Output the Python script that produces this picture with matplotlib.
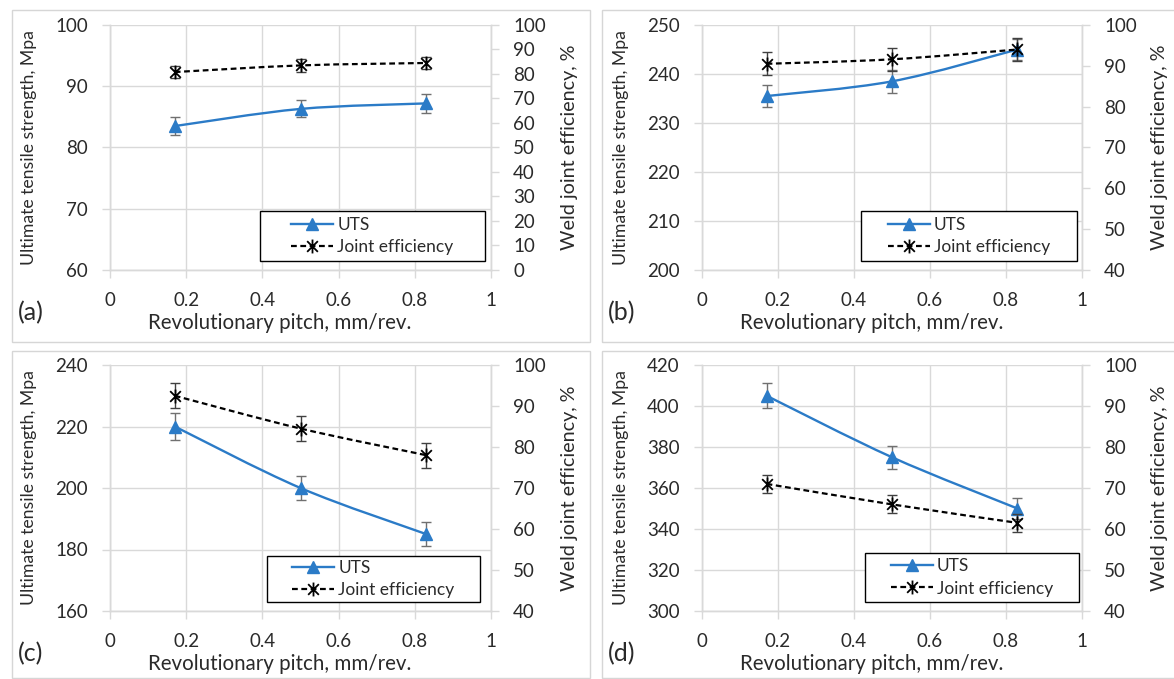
import matplotlib
matplotlib.use("Agg")
import matplotlib.pyplot as plt
from matplotlib.path import Path
from matplotlib.patches import Rectangle, PathPatch
from matplotlib.lines import Line2D
import numpy as np

plt.rcParams['font.family'] = ['Lato', 'DejaVu Sans']

# ---- data ----
pitch = [0.17, 0.5, 0.83]

uts_a = [83.5, 86.3, 87.2]
uts_a_err = [1.4, 1.4, 1.5]
je_a = [80.8, 83.5, 84.5]
je_a_err = [2.5, 2.5, 2.5]

uts_b = [235.5, 238.5, 245.0]
uts_b_err = [2.2, 2.3, 2.2]
je_b = [90.5, 91.6, 94.0]
je_b_err = [2.8, 2.8, 2.8]

uts_c = [220.0, 200.0, 185.0]
uts_c_err = [4.3, 4.0, 3.8]
je_c = [92.5, 84.5, 78.0]
je_c_err = [3.0, 3.0, 3.0]

uts_d = [405.0, 375.0, 350.0]
uts_d_err = [6.0, 5.5, 5.0]
je_d = [71.0, 66.0, 61.5]
je_d_err = [2.2, 2.2, 2.2]

left_lims = [(60, 100), (200, 250), (160, 240), (300, 420)]
left_steps = [10, 10, 20, 20]
right_lims = [(0, 100), (40, 100), (40, 100), (40, 100)]
right_steps = [10, 10, 10, 10]
panel_tags = ["(a)", "(b)", "(c)", "(d)"]
x_ticks = [0, 0.2, 0.4, 0.6, 0.8, 1]
x_ticklabels = ["0", "0.2", "0.4", "0.6", "0.8", "1"]
x_title = "Revolutionary pitch, mm/rev."
y_title_left = "Ultimate tensile strength, Mpa"
y_title_right = "Weld joint efficiency, %"

uts_sets = [(uts_a, uts_a_err), (uts_b, uts_b_err), (uts_c, uts_c_err), (uts_d, uts_d_err)]
je_sets = [(je_a, je_a_err), (je_b, je_b_err), (je_c, je_c_err), (je_d, je_d_err)]

# ---- style ----
W, H = 1174, 679
fig = plt.figure(figsize=(W / 100, H / 100), dpi=100)

BLUE = "#2b7bc7"
GRID = "#d9d9d9"
TXT = "#2a2a2a"

star = Path([(-1, -1), (1, 1), (-1, 1), (1, -1), (0, -1.3), (0, 1.3)],
            [Path.MOVETO, Path.LINETO, Path.MOVETO, Path.LINETO, Path.MOVETO, Path.LINETO])


def smooth_path(xs, ys, t=1.0 / 6.0):
    """Excel-like smoothed line through the data points (cubic Bezier)."""
    pts = np.column_stack([xs, ys]).astype(float)
    n = len(pts)
    verts = [pts[0]]
    codes = [Path.MOVETO]
    for k in range(n - 1):
        p0 = pts[k - 1] if k > 0 else pts[k]
        p1 = pts[k]
        p2 = pts[k + 1]
        p3 = pts[k + 2] if k + 2 < n else pts[k + 1]
        c1 = p1 + (p2 - p0) * t
        c2 = p2 - (p3 - p1) * t
        verts += [c1, c2, p2]
        codes += [Path.CURVE4] * 3
    return Path(verts, codes)


# axes rectangles in pixels: (left, right, top, bottom)
ax_px = [(110, 491, 25, 270), (702, 1082, 25, 270),
         (110, 491, 365, 611), (702, 1082, 365, 611)]
frame_px = [(12, 590, 10, 342), (602, 1190, 10, 342),
            (12, 590, 351, 678), (602, 1190, 351, 678)]
# legend boxes in pixels: (left, right, top, bottom)
legend_px = [(260, 485, 211, 261), (861, 1077, 211, 261),
             (267, 480, 556, 602), (865, 1079, 553, 602)]
xtitle_cx = [280, 872, 280, 872]

for (fl, fr, ft, fb) in frame_px:
    fig.patches.append(Rectangle((fl / W, 1 - fb / H), (fr - fl) / W, (fb - ft) / H,
                                 transform=fig.transFigure, fill=False,
                                 edgecolor="#d6d6d6", linewidth=1.0))

for i in range(4):
    l, r, t, b = ax_px[i]
    axw, axh = r - l, b - t
    ax = fig.add_axes([l / W, 1 - b / H, axw / W, axh / H])
    ax2 = ax.twinx()

    uts, uts_err = uts_sets[i]
    je, je_err = je_sets[i]

    # UTS on left axis
    ax.errorbar(pitch, uts, yerr=uts_err, fmt='none', ecolor="#707070",
                elinewidth=1.0, capsize=3.5, capthick=1.0, zorder=3)
    ax.add_patch(PathPatch(smooth_path(pitch, uts), fill=False, edgecolor=BLUE,
                           linewidth=1.7, zorder=4))
    ax.plot(pitch, uts, linestyle='none', marker='^', markersize=9,
            markerfacecolor=BLUE, markeredgecolor=BLUE, zorder=5)

    # Joint efficiency on right axis
    ax2.errorbar(pitch, je, yerr=je_err, fmt='none', ecolor="#404040",
                 elinewidth=1.0, capsize=3.5, capthick=1.0, zorder=3)
    ax2.add_patch(PathPatch(smooth_path(pitch, je), fill=False, edgecolor="black",
                            linewidth=1.6, linestyle=(0, (2.6, 1.6)), zorder=4))
    ax2.plot(pitch, je, linestyle='none', marker=star, markersize=10,
             markeredgewidth=1.3, markeredgecolor="black", zorder=5)

    ax.set_xlim(0, 1)
    ax.set_ylim(*left_lims[i])
    ax2.set_ylim(*right_lims[i])
    ax.set_xticks(x_ticks)
    ax.set_xticklabels(x_ticklabels)
    ax.set_yticks(np.arange(left_lims[i][0], left_lims[i][1] + 1, left_steps[i]))
    ax2.set_yticks(np.arange(right_lims[i][0], right_lims[i][1] + 1, right_steps[i]))

    ax.grid(True, color=GRID, linewidth=1.0, zorder=0)
    ax.set_axisbelow(True)
    for a in (ax, ax2):
        for s in a.spines.values():
            s.set_color(GRID)
            s.set_linewidth(1.0)
        a.spines['top'].set_visible(False)
        a.tick_params(colors=GRID, labelcolor=TXT, labelsize=13.5, length=6,
                      width=1.0, pad=10)

    # axis titles
    ax.text((xtitle_cx[i] - l) / axw, -53 / axh, x_title, transform=ax.transAxes,
            ha='center', va='center', fontsize=14.8, color=TXT)
    ax.text(-81 / axw, 0.5, y_title_left, transform=ax.transAxes, ha='center',
            va='center', rotation=90, fontsize=12.7, color=TXT)
    ax.text(1 + 78 / axw, 0.5, y_title_right, transform=ax.transAxes, ha='center',
            va='center', rotation=90, fontsize=14.2, color=TXT)

    # legend: fixed frame box with centered entries
    gl, gr, gt, gb = legend_px[i]
    lx0, lx1 = (gl - l) / axw, (gr - l) / axw
    ly0, ly1 = (b - gb) / axh, (b - gt) / axh
    ax2.add_patch(Rectangle((lx0, ly0), lx1 - lx0, ly1 - ly0, transform=ax2.transAxes,
                            facecolor="white", edgecolor="black", linewidth=1.0,
                            zorder=8))
    h1 = Line2D([], [], color=BLUE, linewidth=1.7, marker='^', markersize=9,
                markerfacecolor=BLUE, markeredgecolor=BLUE)
    h2 = Line2D([], [], color="black", linewidth=1.6, linestyle=(0, (2.6, 1.6)),
                marker=star, markersize=10, markeredgewidth=1.3, markeredgecolor="black")
    leg = ax2.legend([h1, h2], ["UTS", "Joint efficiency"], loc='center',
                     bbox_to_anchor=((lx0 + lx1) / 2, (ly0 + ly1) / 2),
                     frameon=False, fontsize=12.5, handlelength=2.4,
                     handletextpad=0.25, borderpad=0.0, labelspacing=0.35)
    leg.set_zorder(9)
    for txt in leg.get_texts():
        txt.set_color(TXT)

    fig.text((frame_px[i][0] + 6) / W, 1 - (b + 43) / H, panel_tags[i], fontsize=18,
             color=TXT, ha='left', va='center')

fig.savefig("out.png", dpi=100)
